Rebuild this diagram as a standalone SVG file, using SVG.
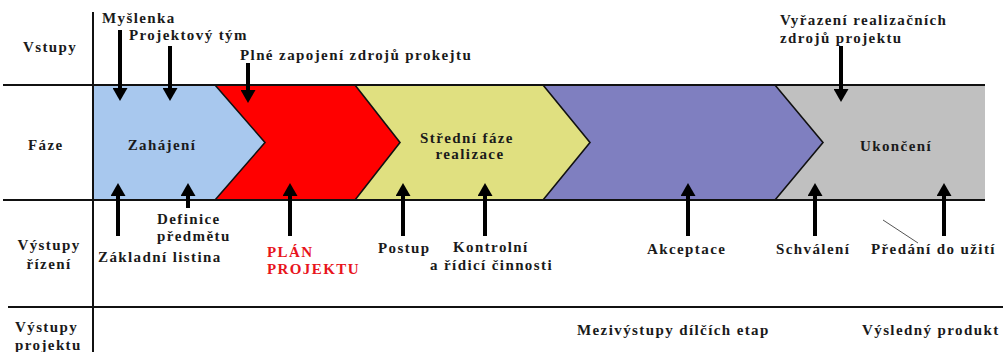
<svg xmlns="http://www.w3.org/2000/svg" width="1003" height="352" viewBox="0 0 1003 352">
<style>
text{font-family:"Liberation Serif","DejaVu Serif",serif;font-weight:700;font-size:15px;letter-spacing:1.4px;fill:#1a1a1a}
.r{fill:#e8141c}
.ln{stroke:#111;stroke-width:2;fill:none}
.edge{stroke:#111;stroke-width:1.6;fill:none}
.arr{stroke:#000;stroke-width:4;marker-end:url(#ah)}
</style>
<defs>
<marker id="ah" viewBox="0 0 13 15" refX="0" refY="7.5" markerWidth="13" markerHeight="15" markerUnits="userSpaceOnUse" orient="auto">
<path d="M0,0 L13,7.5 L0,15 z" fill="#000"/>
</marker>
</defs>
<rect width="1003" height="352" fill="#fff"/>

<g id="phase-zahajeni">
<polygon points="93,85 215,85 265,142.5 215,200 93,200" fill="#a8c8ee"/>
<text x="162" y="150" text-anchor="middle">Zahájení</text>
</g>
<g id="phase-plan">
<polygon points="215,85 355,85 400,142.5 355,200 215,200 265,142.5" fill="#ff0000"/>
</g>
<g id="phase-stredni">
<polygon points="355,85 543,85 590,142.5 543,200 355,200 400,142.5" fill="#e0e080"/>
<text x="467" y="143" text-anchor="middle">Střední fáze</text>
<text x="470" y="159" text-anchor="middle">realizace</text>
</g>
<g id="phase-akceptace">
<polygon points="543,85 775,85 823,142.5 775,200 543,200 590,142.5" fill="#7f7fc0"/>
</g>
<g id="phase-ukonceni">
<polygon points="775,85 985,85 985,200 775,200 823,142.5" fill="#c0c0c0"/>
<text x="896" y="151" text-anchor="middle">Ukončení</text>
</g>

<g id="grid">
<polyline class="edge" points="215,85 265,142.5 215,200"/>
<polyline class="edge" points="355,85 400,142.5 355,200"/>
<polyline class="edge" points="543,85 590,142.5 543,200"/>
<polyline class="edge" points="775,85 823,142.5 775,200"/>
<line class="ln" x1="3" y1="85" x2="985" y2="85"/>
<line class="ln" x1="3" y1="200" x2="985" y2="200"/>
<line class="ln" x1="8" y1="307" x2="1003" y2="307"/>
<line class="ln" x1="93" y1="12" x2="93" y2="352"/>
</g>

<g id="row-labels">
<text x="23" y="52">Vstupy</text>
<text x="28" y="150">Fáze</text>
<text x="49" y="250" text-anchor="middle">Výstupy</text>
<text x="49" y="269" text-anchor="middle">řízení</text>
<text x="15" y="332">Výstupy</text>
<text x="15" y="350">projektu</text>
</g>

<g id="inputs">
<text x="102" y="23">Myšlenka</text>
<text x="129" y="40">Projektový tým</text>
<text x="240" y="60">Plné zapojení zdrojů prokejtu</text>
<text x="780" y="25">Vyřazení realizačních</text>
<text x="780" y="43">zdrojů projektu</text>
</g>

<g id="outputs">
<text x="157" y="224">Definice</text>
<text x="157" y="241">předmětu</text>
<text x="98" y="262">Základní listina</text>
<text class="r" x="267" y="257">PLÁN</text>
<text class="r" x="267" y="274">PROJEKTU</text>
<text x="378" y="253">Postup</text>
<text x="453" y="252">Kontrolní</text>
<text x="430" y="270">a řídicí činnosti</text>
<text x="647" y="254">Akceptace</text>
<text x="776" y="254">Schválení</text>
<text x="871" y="254">Předání do užití</text>
<line x1="883" y1="220" x2="918" y2="243" stroke="#555" stroke-width="1"/>
</g>

<g id="project-outputs">
<text x="577" y="335">Mezivýstupy dílčích etap</text>
<text x="862" y="335">Výsledný produkt</text>
</g>

<g id="connectors">
<line class="arr" x1="120" y1="30" x2="120" y2="88"/>
<line class="arr" x1="170" y1="46" x2="170" y2="88"/>
<line class="arr" x1="248" y1="63" x2="248" y2="90"/>
<line class="arr" x1="841" y1="46" x2="841" y2="89"/>
<line class="arr" x1="118" y1="236" x2="118" y2="196"/>
<line class="arr" x1="188" y1="208" x2="188" y2="196"/>
<line class="arr" x1="290" y1="236" x2="290" y2="196"/>
<line class="arr" x1="403" y1="236" x2="403" y2="196"/>
<line class="arr" x1="485" y1="236" x2="485" y2="196"/>
<line class="arr" x1="688" y1="236" x2="688" y2="196"/>
<line class="arr" x1="815" y1="236" x2="815" y2="196"/>
<line class="arr" x1="944" y1="236" x2="944" y2="196"/>
</g>
</svg>
